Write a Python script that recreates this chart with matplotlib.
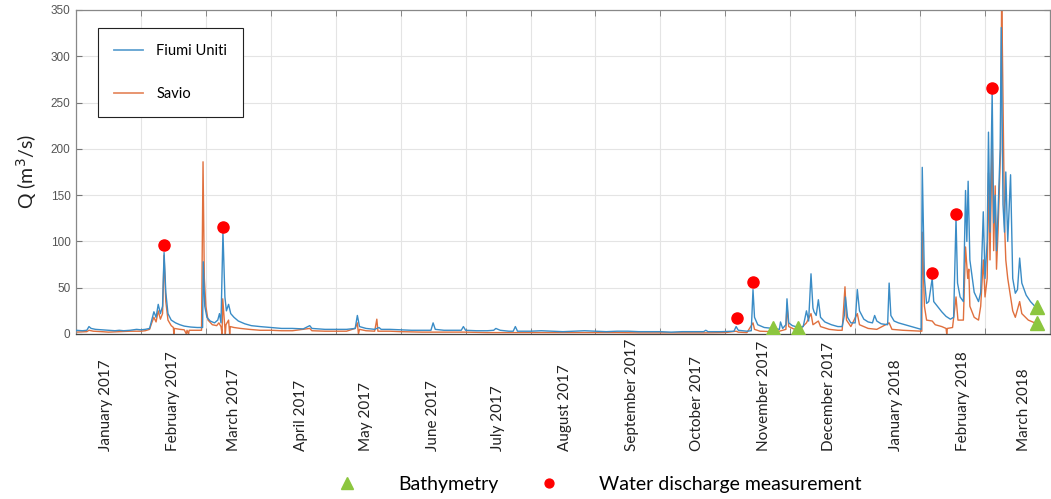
import numpy as np
import pandas as pd
import matplotlib
matplotlib.use("Agg")
import matplotlib.pyplot as plt
from matplotlib.ticker import MultipleLocator, FixedLocator

# ---- data: days since 1 Jan 2017, discharge in m3/s ------------------------
START = pd.Timestamp("2017-01-01")
N_DAYS = 450

fu_day = [0, 3, 5, 6, 7, 9, 12, 15, 18, 20, 22, 25, 28, 30, 32, 34, 35, 36, 37, 38,
          39, 40, 40.7, 41.5, 42.5, 44, 46, 48, 50, 53, 56, 58.5, 58.8, 59.5, 60.5, 62,
          64, 65.5, 66.3, 67, 67.9, 68.8, 69.5, 70.5, 71.5, 73, 75, 78, 81, 85, 90, 95,
          100, 105, 108, 109, 115, 120, 125, 129, 130, 131, 134, 138, 140, 141, 145,
          150, 155, 160, 164, 165, 166, 170, 175, 178, 179, 180, 185, 190, 193, 194,
          196, 200, 202, 203, 204, 210, 215, 220, 225, 230, 235, 240, 245, 250, 255,
          260, 265, 270, 275, 280, 285, 290, 291, 292, 298, 304, 305, 306, 310, 312,
          312.8, 313.5, 315, 318, 322, 325, 325.5, 326.5, 328, 328.5, 329.3, 331, 334,
          336, 337.5, 338.5, 339.6, 340.5, 341, 342, 343, 344, 346, 349, 352, 354, 355,
          355.5, 356.5, 358, 360, 361, 362, 364, 366, 368, 369, 370, 372, 375, 375.7,
          376.5, 378, 380, 383, 386, 389, 390.5, 391, 392, 393, 394, 395.6, 396.3, 398,
          400, 402, 404, 405.5, 406.6, 407.3, 408.5, 410, 411, 411.6, 412.2, 413, 415,
          417, 418, 419.2, 420, 421, 421.6, 422.3, 423.3, 424, 424.7, 425.3, 426, 427,
          427.5, 428.3, 429, 429.6, 430.5, 431.8, 432.8, 434, 435, 436, 437, 439, 441,
          443, 445]
fu_q = [4, 3.5, 4, 8, 6, 5, 4.5, 4, 3.5, 4, 3.5, 4, 5, 4.5, 5, 6, 15, 24, 18, 32,
        22, 30, 88, 45, 22, 15, 12, 10, 8.5, 7.5, 7, 7, 78, 30, 18, 14,
        12, 15, 22, 12, 110, 40, 25, 32, 22, 18, 14, 11, 9, 8, 7, 6,
        6, 5.5, 9, 6, 5, 5, 5, 6, 20, 8, 6, 5, 7, 5, 5,
        4.5, 4, 4, 4, 12, 5, 4, 4, 4, 8, 4, 3.5, 3.5, 4, 6,
        4, 3, 3, 8, 3, 3, 3.5, 3, 2.5, 3, 3.5, 3, 2.5, 3, 3,
        2.5, 2.5, 2.5, 2, 2.5, 2.5, 2.5, 4, 2.5, 2.5, 3, 8, 4, 3, 3.5,
        48, 18, 10, 7, 6, 5, 13, 6, 10, 38, 12, 9, 7,
        8, 25, 14, 65, 28, 24, 20, 37, 18, 13, 10, 8, 8, 20,
        40, 18, 12, 12, 48, 25, 16, 13, 12, 20, 14, 11, 10, 55,
        20, 14, 12, 10, 8, 6, 5, 180, 60, 33, 35, 60, 35, 30,
        24, 19, 16, 18, 125, 55, 40, 35, 155, 100, 165, 80, 45,
        35, 45, 132, 60, 100, 218, 110, 262, 120, 150, 90, 130, 200,
        331, 140, 110, 175, 100, 172, 60, 44, 48, 82, 55, 42, 35,
        30, 26]

sav_day = [0, 5, 6, 8, 12, 15, 20, 25, 28, 30, 32, 34, 35, 36, 37, 38, 39, 40, 40.7,
           41.5, 42.5, 44, 45, 45.2, 45.5, 48, 50, 51, 51.3, 52, 52.3, 55, 58, 58.7,
           59.3, 60, 61, 63, 65, 66, 67, 67.5, 67.8, 68.5, 69, 69.3, 70.5, 71, 71.3,
           73, 76, 80, 85, 90, 95, 100, 108, 109, 115, 120, 125, 129, 130, 130.5, 131,
           134, 138, 139, 139.5, 145, 150, 160, 170, 180, 190, 200, 210, 220, 230, 240,
           250, 260, 270, 280, 290, 300, 305, 306, 310, 312.8, 313.5, 316, 322, 325,
           328, 328.5, 329.3, 332, 334, 337.5, 339.6, 340.5, 343, 344, 348, 352, 354,
           355.3, 356, 358, 361, 362, 366, 370, 375.7, 377, 382, 386, 390, 390.8, 391,
           392, 393, 395.6, 397, 400, 402, 402.3, 402.6, 405, 406.6, 407.5, 410, 411,
           412, 412.5, 413, 415, 417, 418, 419.2, 420, 421, 421.6, 422.3, 423.3, 424,
           424.7, 425.3, 426, 427.2, 427.7, 428.3, 429, 429.6, 430.5, 431.8, 432.8, 434,
           436, 437, 440, 443, 445]
sav_q = [2, 2.5, 4, 3, 2.5, 2, 2.5, 3, 3, 3, 3.5, 5, 12, 18, 13, 25, 16, 22, 85,
         35, 15, 9, 7, 0, 6, 5, 4.5, 0, 4, 0, 4, 4, 4, 186,
         60, 30, 15, 10, 9, 12, 8, 0, 38, 15, 0, 10, 15, 0, 8,
         7, 6, 5, 4, 4, 3.5, 3.5, 6, 3.5, 3, 3, 3, 6, 12, 0, 5,
         3.5, 3, 16, 3, 3, 2.5, 2, 2, 2, 1.5, 1.5, 1.5, 1.5, 1.5, 1.5,
         1.5, 1.2, 1.2, 1.2, 1.2, 1.5, 3, 2, 1.5, 12, 5, 3, 2.5, 3,
         5, 31, 8, 5, 4, 12, 22, 10, 14, 8, 5, 4, 4,
         51, 15, 8, 22, 10, 6, 5, 12, 5, 4, 3.5, 3, 3, 110,
         30, 15, 14, 10, 8, 6, 0, 6, 7, 40, 15, 15, 94,
         60, 70, 30, 18, 15, 30, 80, 40, 60, 174, 80, 210, 90,
         160, 70, 110, 200, 370, 250, 120, 80, 60, 40, 25, 18,
         35, 22, 15, 12, 10]

# field campaigns
discharge_day = [40.7, 67.9, 305.4, 312.8, 395.6, 406.7, 423.3]
discharge_q = [96, 116, 17, 56, 66, 130, 266]
bathy_day = [322, 333.6, 444, 444]
bathy_q = [7, 7, 29, 12]

months = pd.date_range("2017-01-01", "2018-03-01", freq="MS")
month_day = [(m + pd.Timedelta(days=14) - START).days for m in months]
month_lab = [m.strftime("%B %Y") for m in months]

# ---- figure -----------------------------------------------------------------
plt.rcParams["font.family"] = ["Lato", "DejaVu Sans"]
fig = plt.figure(figsize=(10.51, 4.99), dpi=100)
ax = fig.add_axes([0.0723, 0.3307, 0.9267, 0.6493])

ax.plot(fu_day, fu_q, color="#3a8cc6", lw=1.0, label="Fiumi Uniti", zorder=3)
ax.plot(sav_day, sav_q, color="#e0703e", lw=1.0, label="Savio", zorder=2)
h_tri, = ax.plot(bathy_day, bathy_q, ls="none", marker="^", ms=10,
                 color="#8cc63f", zorder=5)
h_dot, = ax.plot(discharge_day, discharge_q, ls="none", marker="o", ms=8,
                 color="#ff0000", zorder=5)

ax.set_xlim(0, N_DAYS)
ax.set_ylim(0, 350)
ax.yaxis.set_major_locator(MultipleLocator(50))
ax.xaxis.set_minor_locator(MultipleLocator(30))
ax.xaxis.set_major_locator(FixedLocator(month_day))
ax.set_xticklabels(month_lab)
ax.grid(True, which="minor", axis="x", color="#e4e4e4", lw=0.8)
ax.grid(True, which="major", axis="y", color="#e4e4e4", lw=0.8)
ax.set_axisbelow(True)

ax.tick_params(axis="x", which="major", length=0, pad=84, labelrotation=90,
               labelsize=11, colors="#222222")
for lab in ax.get_xticklabels():
    lab.set_verticalalignment("bottom")
ax.tick_params(axis="x", which="minor", direction="in", length=4, color="#777777",
               top=True, bottom=True)
ax.tick_params(axis="y", direction="in", length=4, color="#777777", right=True,
               labelsize=8.5, labelcolor="#555555", pad=4)
for lab in ax.get_yticklabels():
    lab.set_family("Liberation Sans")
for s in ax.spines.values():
    s.set_color("#888888")
    s.set_linewidth(0.9)
ax.spines["bottom"].set_color("#444444")

ax.set_ylabel("Q (m$^3$/s)", fontsize=14, color="#222222", labelpad=8)

leg = ax.legend(loc="upper left", bbox_to_anchor=(0.0226, 0.944), borderaxespad=0,
                fontsize=10.5, handlelength=2.0, handletextpad=0.9, labelspacing=2.0,
                borderpad=1.1, fancybox=False, edgecolor="#222222", framealpha=1)
leg.get_frame().set_linewidth(0.8)
for ln in leg.get_lines():
    ln.set_linewidth(1.3)
    ln.set_alpha(0.8)

fig.legend([h_tri, h_dot], ["Bathymetry", "Water discharge measurement"],
           loc="center", bbox_to_anchor=(0.566, 0.03), ncol=2, frameon=False,
           fontsize=14, handletextpad=1.6, columnspacing=1.6, markerscale=0.8)

fig.savefig("out.png", dpi=100)
